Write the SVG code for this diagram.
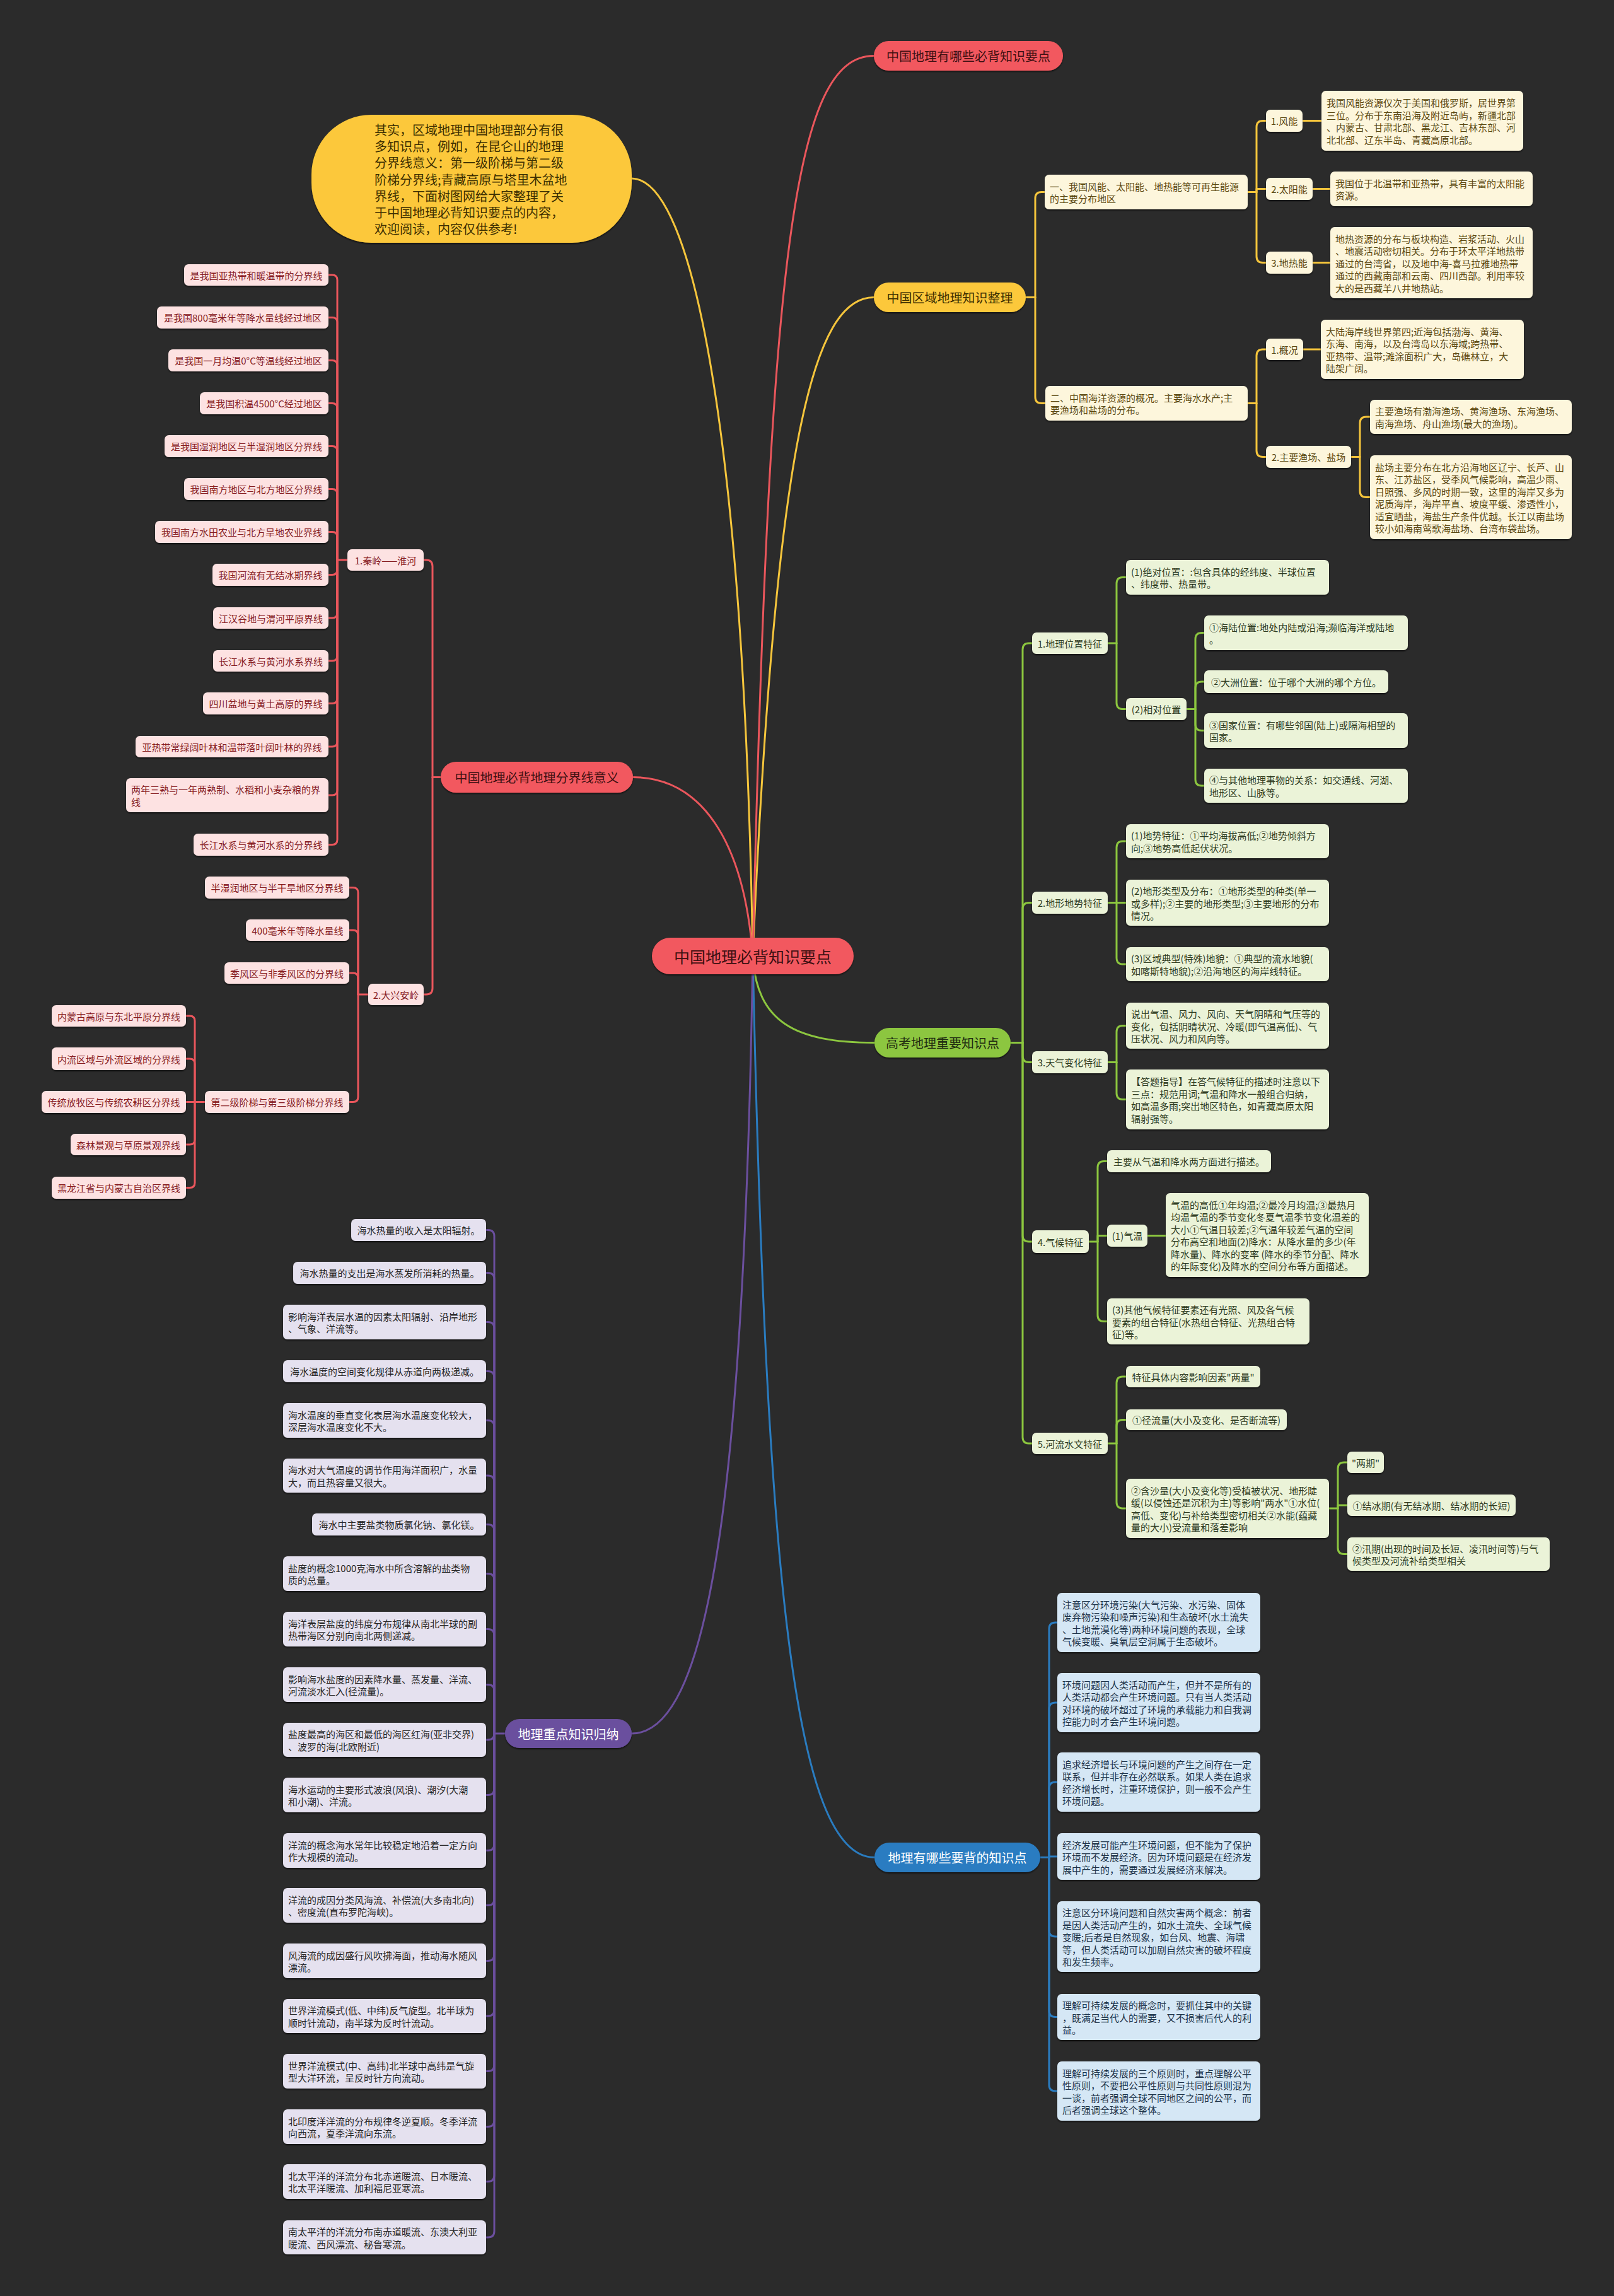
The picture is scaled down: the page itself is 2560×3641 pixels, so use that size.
<svg xmlns="http://www.w3.org/2000/svg" width="2560" height="3641" viewBox="0 0 2560 3641">
<defs>
<filter id="sh" x="-5%" y="-10%" width="110%" height="130%"><feDropShadow dx="0" dy="2" stdDeviation="1.2" flood-color="#000" flood-opacity="0.55"/></filter>
</defs>
<style>
text{font-family:"Noto Sans CJK SC","Noto Sans",sans-serif;dominant-baseline:central;font-size:15px}
.m{text-anchor:middle}
rect{filter:url(#sh)}
.br text{font-size:20px}
.red rect{fill:#f2595f}.red text{fill:#3e1012}
.yel rect{fill:#fcc83b}.yel text{fill:#3d2f00}
.grn rect{fill:#8cc63f}.grn text{fill:#1f2b10}
.blu rect{fill:#2b7cc1}.blu text{fill:#ffffff}
.pur rect{fill:#6b4f9e}.pur text{fill:#ffffff}
.lr rect{fill:#fde2e2}.lr text{fill:#861b1f}
.ly rect{fill:#fdf6dc}.ly text{fill:#5a4710}
.lg rect{fill:#ebf3d8}.lg text{fill:#2d3a1e}
.lb rect{fill:#d5e7f5}.lb text{fill:#1c3248}
.lp rect{fill:#e5e1ef}.lp text{fill:#262626}
#connectors path{fill:none;stroke-linecap:round;stroke-linejoin:round}
.cr path{stroke:#ea565c;stroke-width:3}
.cy path{stroke:#f5c53c;stroke-width:3}
.cg path{stroke:#8cc63f;stroke-width:3}
.cb path{stroke:#2a7cc0;stroke-width:3}
.cp path{stroke:#6b4f9e;stroke-width:3}
</style>
<rect x="0" y="0" width="2560" height="3641" fill="#2b2b2b" style="filter:none"/>

<g id="connectors">
<g class="cy">
<path d="M1194 1516C1180 700 1100 283 1002 283"/>
<path d="M1194 1516C1230 700 1290 471.5 1386 471.5"/>
<path d="M1627 471.5H1642"/>
<path d="M1642 471.5V314.5Q1642 304.5 1652 304.5H1657"/>
<path d="M1642 471.5V629.5Q1642 639.5 1652 639.5H1658"/>
<path d="M1979 304.5H1993"/>
<path d="M1993 304.5V201.5Q1993 191.5 2003 191.5H2008"/>
<path d="M1993 304.5V299.5H2008"/>
<path d="M1993 304.5V406.5Q1993 416.5 2003 416.5H2008"/>
<path d="M2066 191.5H2096"/>
<path d="M2082 299.5H2110"/>
<path d="M2082 416.5H2110"/>
<path d="M1979 639.5H1993"/>
<path d="M1993 639.5V564Q1993 554 2003 554H2008"/>
<path d="M1993 639.5V714.5Q1993 724.5 2003 724.5H2008"/>
<path d="M2067 554H2095"/>
<path d="M2143 724.5H2157"/>
<path d="M2157 724.5V671Q2157 661 2167 661H2173"/>
<path d="M2157 724.5V778.5Q2157 788.5 2167 788.5H2173"/>
</g>
<g class="cr">
<path d="M1194 1516C1220 400 1260 88.5 1386 88.5"/>
<path d="M1194 1516C1180 1330 1110 1232.5 1004 1232.5"/>
<path d="M699 1232.5H686"/>
<path d="M686 1232.5V898Q686 888 676 888H672"/>
<path d="M686 1232.5V1567Q686 1577 676 1577H672"/>
<path d="M551 888H535"/>
<path d="M535 888V444Q535 436 527 436H521"/>
<path d="M535 888V511.5Q535 503.5 527 503.5H521"/>
<path d="M535 888V579.5Q535 571.5 527 571.5H521"/>
<path d="M535 888V647.5Q535 639.5 527 639.5H521"/>
<path d="M535 888V715.5Q535 707.5 527 707.5H521"/>
<path d="M535 888V783.5Q535 775.5 527 775.5H521"/>
<path d="M535 888V851.5Q535 843.5 527 843.5H521"/>
<path d="M535 888V903.5Q535 911.5 527 911.5H521"/>
<path d="M535 888V972Q535 980 527 980H521"/>
<path d="M535 888V1040Q535 1048 527 1048H521"/>
<path d="M535 888V1107.5Q535 1115.5 527 1115.5H521"/>
<path d="M535 888V1176Q535 1184 527 1184H521"/>
<path d="M535 888V1253Q535 1261 527 1261H521"/>
<path d="M535 888V1331.5Q535 1339.5 527 1339.5H521"/>
<path d="M584 1577H568"/>
<path d="M568 1577V1415.5Q568 1407.5 560 1407.5H554"/>
<path d="M568 1577V1483Q568 1475 560 1475H554"/>
<path d="M568 1577V1551Q568 1543 560 1543H554"/>
<path d="M568 1577V1739.5Q568 1747.5 560 1747.5H554"/>
<path d="M325 1747.5H309"/>
<path d="M309 1747.5V1619Q309 1611 301 1611H295"/>
<path d="M309 1747.5V1687Q309 1679 301 1679H295"/>
<path d="M309 1747.5H295"/>
<path d="M309 1747.5V1807Q309 1815 301 1815H295"/>
<path d="M309 1747.5V1875.5Q309 1883.5 301 1883.5H295"/>
</g>
<g class="cg">
<path d="M1194 1516C1200 1620 1260 1653.5 1387 1653.5"/>
<path d="M1603 1653.5H1622"/>
<path d="M1622 1653.5V1030Q1622 1020 1632 1020H1637"/>
<path d="M1622 1653.5V1441.5Q1622 1431.5 1632 1431.5H1637"/>
<path d="M1622 1653.5V1674.5Q1622 1684.5 1632 1684.5H1637"/>
<path d="M1622 1653.5V1959Q1622 1969 1632 1969H1637"/>
<path d="M1622 1653.5V2279Q1622 2289 1632 2289H1637"/>
<path d="M1757 1020H1771"/>
<path d="M1771 1020V925.5Q1771 915.5 1781 915.5H1786"/>
<path d="M1771 1020V1114.5Q1771 1124.5 1781 1124.5H1786"/>
<path d="M1882 1124.5H1896"/>
<path d="M1896 1124.5V1013.5Q1896 1003.5 1906 1003.5H1910"/>
<path d="M1896 1124.5V1091Q1896 1081 1906 1081H1910"/>
<path d="M1896 1124.5V1148.5Q1896 1158.5 1906 1158.5H1910"/>
<path d="M1896 1124.5V1236Q1896 1246 1906 1246H1910"/>
<path d="M1757 1431.5H1771"/>
<path d="M1771 1431.5V1344Q1771 1334 1781 1334H1786"/>
<path d="M1771 1431.5H1786"/>
<path d="M1771 1431.5V1519Q1771 1529 1781 1529H1786"/>
<path d="M1757 1684.5H1771"/>
<path d="M1771 1684.5V1636.5Q1771 1626.5 1781 1626.5H1786"/>
<path d="M1771 1684.5V1733.5Q1771 1743.5 1781 1743.5H1786"/>
<path d="M1727 1969H1741"/>
<path d="M1741 1969V1851.5Q1741 1841.5 1751 1841.5H1756"/>
<path d="M1741 1969V1959.5H1756"/>
<path d="M1741 1969V2085.5Q1741 2095.5 1751 2095.5H1756"/>
<path d="M1820 1959.5H1849"/>
<path d="M1757 2289H1771"/>
<path d="M1771 2289V2193Q1771 2183 1781 2183H1786"/>
<path d="M1771 2289V2261.5Q1771 2251.5 1781 2251.5H1786"/>
<path d="M1771 2289V2382Q1771 2392 1781 2392H1786"/>
<path d="M2108 2392H2122"/>
<path d="M2122 2392V2329Q2122 2319 2132 2319H2137"/>
<path d="M2122 2392V2387H2137"/>
<path d="M2122 2392V2454.5Q2122 2464.5 2132 2464.5H2137"/>
</g>
<g class="cb">
<path d="M1194 1516C1215 2500 1260 2945.5 1387 2945.5"/>
<path d="M1650 2945.5H1664"/>
<path d="M1664 2945.5V2583Q1664 2573 1674 2573H1677"/>
<path d="M1664 2945.5V2710Q1664 2700 1674 2700H1677"/>
<path d="M1664 2945.5V2836Q1664 2826 1674 2826H1677"/>
<path d="M1664 2945.5V2944H1677"/>
<path d="M1664 2945.5V3061Q1664 3071 1674 3071H1677"/>
<path d="M1664 2945.5V3188.5Q1664 3198.5 1674 3198.5H1677"/>
<path d="M1664 2945.5V3306Q1664 3316 1674 3316H1677"/>
</g>
<g class="cp">
<path d="M1194 1516C1180 2400 1120 2749 1002 2749"/>
<path d="M801 2749H784"/>
<path d="M784 2749V1960.5Q784 1950.5 774 1950.5H771"/>
<path d="M784 2749V2028.5Q784 2018.5 774 2018.5H771"/>
<path d="M784 2749V2106.5Q784 2096.5 774 2096.5H771"/>
<path d="M784 2749V2184.5Q784 2174.5 774 2174.5H771"/>
<path d="M784 2749V2262.5Q784 2252.5 774 2252.5H771"/>
<path d="M784 2749V2350Q784 2340 774 2340H771"/>
<path d="M784 2749V2427.5Q784 2417.5 774 2417.5H771"/>
<path d="M784 2749V2505.5Q784 2495.5 774 2495.5H771"/>
<path d="M784 2749V2593.5Q784 2583.5 774 2583.5H771"/>
<path d="M784 2749V2681.5Q784 2671.5 774 2671.5H771"/>
<path d="M784 2749Q784 2759 774 2759H771"/>
<path d="M784 2749V2836.5Q784 2846.5 774 2846.5H771"/>
<path d="M784 2749V2924.5Q784 2934.5 774 2934.5H771"/>
<path d="M784 2749V3011.5Q784 3021.5 774 3021.5H771"/>
<path d="M784 2749V3099.5Q784 3109.5 774 3109.5H771"/>
<path d="M784 2749V3187Q784 3197 774 3197H771"/>
<path d="M784 2749V3274.5Q784 3284.5 774 3284.5H771"/>
<path d="M784 2749V3362.5Q784 3372.5 774 3372.5H771"/>
<path d="M784 2749V3449.5Q784 3459.5 774 3459.5H771"/>
<path d="M784 2749V3538Q784 3548 774 3548H771"/>
</g>
</g>

<g id="root" class="red br"><rect x="1034" y="1487" width="320" height="58" rx="29"/><text x="1194" y="1516" class="m" style="font-size:25px">中国地理必背知识要点</text></g>

<g id="intro" class="yel"><rect x="494" y="182" width="508" height="203" rx="95"/>
<text style="font-size:20px"><tspan x="594" y="204.6">其实，区域地理中国地理部分有很</tspan><tspan x="594" y="230.9">多知识点，例如，在昆仑山的地理</tspan><tspan x="594" y="257.2">分界线意义：第一级阶梯与第二级</tspan><tspan x="594" y="283.5">阶梯分界线;青藏高原与塔里木盆地</tspan><tspan x="594" y="309.8">界线，下面树图网给大家整理了关</tspan><tspan x="594" y="336.1">于中国地理必背知识要点的内容，</tspan><tspan x="594" y="362.4">欢迎阅读，内容仅供参考!</tspan></text></g>

<g id="b1" class="red br"><rect x="1386" y="65" width="300" height="47" rx="23.5"/><text x="1536" y="88.5" class="m">中国地理有哪些必背知识要点</text></g>
<g id="b2" class="yel br"><rect x="1386" y="448" width="241" height="47" rx="23.5"/><text x="1506.5" y="471.5" class="m">中国区域地理知识整理</text></g>
<g id="b3" class="grn br"><rect x="1387" y="1630" width="216" height="47" rx="23.5"/><text x="1495" y="1653.5" class="m">高考地理重要知识点</text></g>
<g id="b4" class="blu br"><rect x="1387" y="2922" width="263" height="47" rx="23.5"/><text x="1518.5" y="2945.5" class="m">地理有哪些要背的知识点</text></g>
<g id="b5" class="pur br"><rect x="801" y="2726" width="201" height="46" rx="23"/><text x="901.5" y="2749" class="m">地理重点知识归纳</text></g>
<g id="b6" class="red br"><rect x="699" y="1208" width="305" height="49" rx="24.5"/><text x="851.5" y="1232.5" class="m">中国地理必背地理分界线意义</text></g>

<!-- yellow branch -->
<g id="y1" class="ly"><rect x="1657" y="277" width="322" height="55" rx="7"/><text><tspan x="1665" y="294.75">一、我国风能、太阳能、地热能等可再生能源</tspan><tspan x="1665" y="314.25">的主要分布地区</tspan></text></g>
<g id="y1a" class="ly"><rect x="2008" y="174" width="58" height="35" rx="7"/><text x="2037" y="191.5" class="m">1.风能</text></g>
<g id="y1a1" class="ly"><rect x="2096" y="144" width="320" height="95" rx="7"/><text><tspan x="2104" y="162.25">我国风能资源仅次于美国和俄罗斯，居世界第</tspan><tspan x="2104" y="181.75">三位。分布于东南沿海及附近岛屿，新疆北部</tspan><tspan x="2104" y="201.25">、内蒙古、甘肃北部、黑龙江、吉林东部、河</tspan><tspan x="2104" y="220.75">北北部、辽东半岛、青藏高原北部。</tspan></text></g>
<g id="y1b" class="ly"><rect x="2008" y="282" width="74" height="35" rx="7"/><text x="2045" y="299.5" class="m">2.太阳能</text></g>
<g id="y1b1" class="ly"><rect x="2110" y="272" width="321" height="55" rx="7"/><text><tspan x="2118" y="289.75">我国位于北温带和亚热带，具有丰富的太阳能</tspan><tspan x="2118" y="309.25">资源。</tspan></text></g>
<g id="y1c" class="ly"><rect x="2008" y="399" width="74" height="35" rx="7"/><text x="2045" y="416.5" class="m">3.地热能</text></g>
<g id="y1c1" class="ly"><rect x="2110" y="360" width="321" height="113" rx="7"/><text><tspan x="2118" y="377.5">地热资源的分布与板块构造、岩浆活动、火山</tspan><tspan x="2118" y="397">、地震活动密切相关。分布于环太平洋地热带</tspan><tspan x="2118" y="416.5">通过的台湾省，以及地中海-喜马拉雅地热带</tspan><tspan x="2118" y="436">通过的西藏南部和云南、四川西部。利用率较</tspan><tspan x="2118" y="455.5">大的是西藏羊八井地热站。</tspan></text></g>
<g id="y2" class="ly"><rect x="1658" y="612" width="321" height="55" rx="7"/><text><tspan x="1666" y="629.75">二、中国海洋资源的概况。主要海水水产;主</tspan><tspan x="1666" y="649.25">要渔场和盐场的分布。</tspan></text></g>
<g id="y2a" class="ly"><rect x="2008" y="537" width="59" height="34" rx="7"/><text x="2037.5" y="554" class="m">1.概况</text></g>
<g id="y2a1" class="ly"><rect x="2095" y="507" width="322" height="94" rx="7"/><text><tspan x="2103" y="524.75">大陆海岸线世界第四;近海包括渤海、黄海、</tspan><tspan x="2103" y="544.25">东海、南海，以及台湾岛以东海域;跨热带、</tspan><tspan x="2103" y="563.75">亚热带、温带;滩涂面积广大，岛礁林立，大</tspan><tspan x="2103" y="583.25">陆架广阔。</tspan></text></g>
<g id="y2b" class="ly"><rect x="2008" y="707" width="135" height="35" rx="7"/><text x="2075.5" y="724.5" class="m">2.主要渔场、盐场</text></g>
<g id="y2b1" class="ly"><rect x="2173" y="634" width="320" height="54" rx="7"/><text><tspan x="2181" y="651.25">主要渔场有渤海渔场、黄海渔场、东海渔场、</tspan><tspan x="2181" y="670.75">南海渔场、舟山渔场(最大的渔场)。</tspan></text></g>
<g id="y2b2" class="ly"><rect x="2173" y="722" width="320" height="133" rx="7"/><text><tspan x="2181" y="739.75">盐场主要分布在北方沿海地区辽宁、长芦、山</tspan><tspan x="2181" y="759.25">东、江苏盐区，受季风气候影响，高温少雨、</tspan><tspan x="2181" y="778.75">日照强、多风的时期一致，这里的海岸又多为</tspan><tspan x="2181" y="798.25">泥质海岸，海岸平直、坡度平缓、渗透性小，</tspan><tspan x="2181" y="817.75">适宜晒盐，海盐生产条件优越。长江以南盐场</tspan><tspan x="2181" y="837.25">较小如海南莺歌海盐场、台湾布袋盐场。</tspan></text></g>

<!-- red branch -->
<g id="r1" class="lr"><rect x="292" y="419" width="229" height="34" rx="7"/><text x="406.5" y="436" class="m">是我国亚热带和暖温带的分界线</text></g>
<g id="r2" class="lr"><rect x="249" y="486" width="272" height="35" rx="7"/><text x="385" y="503.5" class="m">是我国800毫米年等降水量线经过地区</text></g>
<g id="r3" class="lr"><rect x="267" y="554" width="254" height="35" rx="7"/><text x="394" y="571.5" class="m">是我国一月均温0°C等温线经过地区</text></g>
<g id="r4" class="lr"><rect x="317" y="622" width="204" height="35" rx="7"/><text x="419" y="639.5" class="m">是我国积温4500°C经过地区</text></g>
<g id="r5" class="lr"><rect x="261" y="690" width="260" height="35" rx="7"/><text x="391" y="707.5" class="m">是我国湿润地区与半湿润地区分界线</text></g>
<g id="r6" class="lr"><rect x="292" y="758" width="229" height="35" rx="7"/><text x="406.5" y="775.5" class="m">我国南方地区与北方地区分界线</text></g>
<g id="r7" class="lr"><rect x="246" y="826" width="275" height="35" rx="7"/><text x="383.5" y="843.5" class="m">我国南方水田农业与北方旱地农业界线</text></g>
<g id="r8" class="lr"><rect x="337" y="894" width="184" height="35" rx="7"/><text x="429" y="911.5" class="m">我国河流有无结冰期界线</text></g>
<g id="r9" class="lr"><rect x="338" y="963" width="183" height="34" rx="7"/><text x="429.5" y="980" class="m">江汉谷地与渭河平原界线</text></g>
<g id="r10" class="lr"><rect x="338" y="1031" width="183" height="34" rx="7"/><text x="429.5" y="1048" class="m">长江水系与黄河水系界线</text></g>
<g id="r11" class="lr"><rect x="322" y="1098" width="199" height="35" rx="7"/><text x="421.5" y="1115.5" class="m">四川盆地与黄土高原的界线</text></g>
<g id="r12" class="lr"><rect x="215" y="1167" width="306" height="34" rx="7"/><text x="368" y="1184" class="m">亚热带常绿阔叶林和温带落叶阔叶林的界线</text></g>
<g id="r13" class="lr"><rect x="200" y="1234" width="321" height="54" rx="7"/><text><tspan x="208" y="1251.25">两年三熟与一年两熟制、水稻和小麦杂粮的界</tspan><tspan x="208" y="1270.75">线</tspan></text></g>
<g id="r14" class="lr"><rect x="307" y="1322" width="214" height="35" rx="7"/><text x="414" y="1339.5" class="m">长江水系与黄河水系的分界线</text></g>
<g id="rA" class="lr"><rect x="551" y="871" width="121" height="34" rx="7"/><text x="611.5" y="888" class="m">1.秦岭——淮河</text></g>
<g id="rB" class="lr"><rect x="584" y="1560" width="88" height="34" rx="7"/><text x="628" y="1577" class="m">2.大兴安岭</text></g>
<g id="s1" class="lr"><rect x="325" y="1390" width="229" height="35" rx="7"/><text x="439.5" y="1407.5" class="m">半湿润地区与半干旱地区分界线</text></g>
<g id="s2" class="lr"><rect x="390" y="1458" width="164" height="34" rx="7"/><text x="472" y="1475" class="m">400毫米年等降水量线</text></g>
<g id="s3" class="lr"><rect x="356" y="1526" width="198" height="34" rx="7"/><text x="455" y="1543" class="m">季风区与非季风区的分界线</text></g>
<g id="s4" class="lr"><rect x="325" y="1730" width="229" height="35" rx="7"/><text x="439.5" y="1747.5" class="m">第二级阶梯与第三级阶梯分界线</text></g>
<g id="t1" class="lr"><rect x="82" y="1594" width="213" height="34" rx="7"/><text x="188.5" y="1611" class="m">内蒙古高原与东北平原分界线</text></g>
<g id="t2" class="lr"><rect x="82" y="1661" width="213" height="36" rx="7"/><text x="188.5" y="1679" class="m">内流区域与外流区域的分界线</text></g>
<g id="t3" class="lr"><rect x="66" y="1730" width="229" height="35" rx="7"/><text x="180.5" y="1747.5" class="m">传统放牧区与传统农耕区分界线</text></g>
<g id="t4" class="lr"><rect x="112" y="1798" width="183" height="34" rx="7"/><text x="203.5" y="1815" class="m">森林景观与草原景观界线</text></g>
<g id="t5" class="lr"><rect x="82" y="1866" width="213" height="35" rx="7"/><text x="188.5" y="1883.5" class="m">黑龙江省与内蒙古自治区界线</text></g>

<!-- green branch -->
<g id="g1" class="lg"><rect x="1637" y="1003" width="120" height="34" rx="7"/><text x="1697" y="1020" class="m">1.地理位置特征</text></g>
<g id="g1a" class="lg"><rect x="1786" y="888" width="322" height="55" rx="7"/><text><tspan x="1794" y="905.75">(1)绝对位置：:包含具体的经纬度、半球位置</tspan><tspan x="1794" y="925.25">、纬度带、热量带。</tspan></text></g>
<g id="g1b" class="lg"><rect x="1786" y="1107" width="96" height="35" rx="7"/><text x="1834" y="1124.5" class="m">(2)相对位置</text></g>
<g id="g1b1" class="lg"><rect x="1910" y="976" width="323" height="55" rx="7"/><text><tspan x="1918" y="993.75">①海陆位置:地处内陆或沿海;濒临海洋或陆地</tspan><tspan x="1918" y="1013.25">。</tspan></text></g>
<g id="g1b2" class="lg"><rect x="1910" y="1063" width="292" height="36" rx="7"/><text x="2056" y="1081" class="m">②大洲位置：位于哪个大洲的哪个方位。</text></g>
<g id="g1b3" class="lg"><rect x="1910" y="1131" width="323" height="55" rx="7"/><text><tspan x="1918" y="1148.75">③国家位置：有哪些邻国(陆上)或隔海相望的</tspan><tspan x="1918" y="1168.25">国家。</tspan></text></g>
<g id="g1b4" class="lg"><rect x="1910" y="1219" width="323" height="54" rx="7"/><text><tspan x="1918" y="1236.25">④与其他地理事物的关系：如交通线、河湖、</tspan><tspan x="1918" y="1255.75">地形区、山脉等。</tspan></text></g>
<g id="g2" class="lg"><rect x="1637" y="1414" width="120" height="35" rx="7"/><text x="1697" y="1431.5" class="m">2.地形地势特征</text></g>
<g id="g2a" class="lg"><rect x="1786" y="1307" width="322" height="54" rx="7"/><text><tspan x="1794" y="1324.25">(1)地势特征：①平均海拔高低;②地势倾斜方</tspan><tspan x="1794" y="1343.75">向;③地势高低起伏状况。</tspan></text></g>
<g id="g2b" class="lg"><rect x="1786" y="1395" width="322" height="73" rx="7"/><text><tspan x="1794" y="1412">(2)地形类型及分布：①地形类型的种类(单一</tspan><tspan x="1794" y="1431.5">或多样);②主要的地形类型;③主要地形的分布</tspan><tspan x="1794" y="1451">情况。</tspan></text></g>
<g id="g2c" class="lg"><rect x="1786" y="1502" width="322" height="54" rx="7"/><text><tspan x="1794" y="1519.25">(3)区域典型(特殊)地貌：①典型的流水地貌(</tspan><tspan x="1794" y="1538.75">如喀斯特地貌);②沿海地区的海岸线特征。</tspan></text></g>
<g id="g3" class="lg"><rect x="1637" y="1667" width="120" height="35" rx="7"/><text x="1697" y="1684.5" class="m">3.天气变化特征</text></g>
<g id="g3a" class="lg"><rect x="1786" y="1590" width="322" height="73" rx="7"/><text><tspan x="1794" y="1607">说出气温、风力、风向、天气阴晴和气压等的</tspan><tspan x="1794" y="1626.5">变化，包括阴晴状况、冷暖(即气温高低)、气</tspan><tspan x="1794" y="1646">压状况、风力和风向等。</tspan></text></g>
<g id="g3b" class="lg"><rect x="1786" y="1696" width="322" height="95" rx="7"/><text><tspan x="1794" y="1714.25">【答题指导】在答气候特征的描述时注意以下</tspan><tspan x="1794" y="1733.75">三点：规范用词;气温和降水一般组合归纳，</tspan><tspan x="1794" y="1753.25">如高温多雨;突出地区特色，如青藏高原太阳</tspan><tspan x="1794" y="1772.75">辐射强等。</tspan></text></g>
<g id="g4" class="lg"><rect x="1637" y="1951" width="90" height="36" rx="7"/><text x="1682" y="1969" class="m">4.气候特征</text></g>
<g id="g4a" class="lg"><rect x="1756" y="1824" width="260" height="35" rx="7"/><text x="1886" y="1841.5" class="m">主要从气温和降水两方面进行描述。</text></g>
<g id="g4b" class="lg"><rect x="1756" y="1942" width="64" height="35" rx="7"/><text x="1788" y="1959.5" class="m">(1)气温</text></g>
<g id="g4b1" class="lg"><rect x="1849" y="1892" width="322" height="133" rx="7"/><text><tspan x="1857" y="1909.75">气温的高低①年均温;②最冷月均温;③最热月</tspan><tspan x="1857" y="1929.25">均温气温的季节变化冬夏气温季节变化温差的</tspan><tspan x="1857" y="1948.75">大小①气温日较差;②气温年较差气温的空间</tspan><tspan x="1857" y="1968.25">分布高空和地面(2)降水：从降水量的多少(年</tspan><tspan x="1857" y="1987.75">降水量)、降水的变率 (降水的季节分配、降水</tspan><tspan x="1857" y="2007.25">的年际变化)及降水的空间分布等方面描述。</tspan></text></g>
<g id="g4c" class="lg"><rect x="1756" y="2059" width="321" height="73" rx="7"/><text><tspan x="1764" y="2076">(3)其他气候特征要素还有光照、风及各气候</tspan><tspan x="1764" y="2095.5">要素的组合特征(水热组合特征、光热组合特</tspan><tspan x="1764" y="2115">征)等。</tspan></text></g>
<g id="g5" class="lg"><rect x="1637" y="2272" width="120" height="34" rx="7"/><text x="1697" y="2289" class="m">5.河流水文特征</text></g>
<g id="g5a" class="lg"><rect x="1786" y="2166" width="213" height="34" rx="7"/><text x="1892.5" y="2183" class="m">特征具体内容影响因素"两量"</text></g>
<g id="g5b" class="lg"><rect x="1786" y="2235" width="255" height="33" rx="7"/><text x="1913.5" y="2251.5" class="m">①径流量(大小及变化、是否断流等)</text></g>
<g id="g5c" class="lg"><rect x="1786" y="2345" width="322" height="94" rx="7"/><text><tspan x="1794" y="2362.75">②含沙量(大小及变化等)受植被状况、地形陡</tspan><tspan x="1794" y="2382.25">缓(以侵蚀还是沉积为主)等影响"两水"①水位(</tspan><tspan x="1794" y="2401.75">高低、变化)与补给类型密切相关②水能(蕴藏</tspan><tspan x="1794" y="2421.25">量的大小)受流量和落差影响</tspan></text></g>
<g id="g5c1" class="lg"><rect x="2137" y="2302" width="58" height="34" rx="7"/><text x="2166" y="2319" class="m">"两期"</text></g>
<g id="g5c2" class="lg"><rect x="2137" y="2370" width="267" height="34" rx="7"/><text x="2270.5" y="2387" class="m">①结冰期(有无结冰期、结冰期的长短)</text></g>
<g id="g5c3" class="lg"><rect x="2137" y="2438" width="321" height="53" rx="7"/><text><tspan x="2145" y="2454.75">②汛期(出现的时间及长短、凌汛时间等)与气</tspan><tspan x="2145" y="2474.25">候类型及河流补给类型相关</tspan></text></g>

<!-- blue branch -->
<g id="bl1" class="lb"><rect x="1677" y="2526" width="322" height="94" rx="7"/><text><tspan x="1685" y="2543.75">注意区分环境污染(大气污染、水污染、固体</tspan><tspan x="1685" y="2563.25">废弃物污染和噪声污染)和生态破坏(水土流失</tspan><tspan x="1685" y="2582.75">、土地荒漠化等)两种环境问题的表现，全球</tspan><tspan x="1685" y="2602.25">气候变暖、臭氧层空洞属于生态破坏。</tspan></text></g>
<g id="bl2" class="lb"><rect x="1677" y="2653" width="322" height="94" rx="7"/><text><tspan x="1685" y="2670.75">环境问题因人类活动而产生，但并不是所有的</tspan><tspan x="1685" y="2690.25">人类活动都会产生环境问题。只有当人类活动</tspan><tspan x="1685" y="2709.75">对环境的破坏超过了环境的承载能力和自我调</tspan><tspan x="1685" y="2729.25">控能力时才会产生环境问题。</tspan></text></g>
<g id="bl3" class="lb"><rect x="1677" y="2779" width="322" height="94" rx="7"/><text><tspan x="1685" y="2796.75">追求经济增长与环境问题的产生之间存在一定</tspan><tspan x="1685" y="2816.25">联系，但并非存在必然联系。如果人类在追求</tspan><tspan x="1685" y="2835.75">经济增长时，注重环境保护，则一般不会产生</tspan><tspan x="1685" y="2855.25">环境问题。</tspan></text></g>
<g id="bl4" class="lb"><rect x="1677" y="2907" width="322" height="74" rx="7"/><text><tspan x="1685" y="2924.5">经济发展可能产生环境问题，但不能为了保护</tspan><tspan x="1685" y="2944">环境而不发展经济。因为环境问题是在经济发</tspan><tspan x="1685" y="2963.5">展中产生的，需要通过发展经济来解决。</tspan></text></g>
<g id="bl5" class="lb"><rect x="1677" y="3015" width="322" height="112" rx="7"/><text><tspan x="1685" y="3032">注意区分环境问题和自然灾害两个概念：前者</tspan><tspan x="1685" y="3051.5">是因人类活动产生的，如水土流失、全球气候</tspan><tspan x="1685" y="3071">变暖;后者是自然现象，如台风、地震、海啸</tspan><tspan x="1685" y="3090.5">等，但人类活动可以加剧自然灾害的破坏程度</tspan><tspan x="1685" y="3110">和发生频率。</tspan></text></g>
<g id="bl6" class="lb"><rect x="1677" y="3162" width="322" height="73" rx="7"/><text><tspan x="1685" y="3179">理解可持续发展的概念时，要抓住其中的关键</tspan><tspan x="1685" y="3198.5">，既满足当代人的需要，又不损害后代人的利</tspan><tspan x="1685" y="3218">益。</tspan></text></g>
<g id="bl7" class="lb"><rect x="1677" y="3269" width="322" height="94" rx="7"/><text><tspan x="1685" y="3286.75">理解可持续发展的三个原则时，重点理解公平</tspan><tspan x="1685" y="3306.25">性原则，不要把公平性原则与共同性原则混为</tspan><tspan x="1685" y="3325.75">一谈，前者强调全球不同地区之间的公平，而</tspan><tspan x="1685" y="3345.25">后者强调全球这个整体。</tspan></text></g>

<!-- purple branch -->
<g id="p1" class="lp"><rect x="557" y="1933" width="214" height="35" rx="7"/><text x="664" y="1950.5" class="m">海水热量的收入是太阳辐射。</text></g>
<g id="p2" class="lp"><rect x="465" y="2001" width="306" height="35" rx="7"/><text x="618" y="2018.5" class="m">海水热量的支出是海水蒸发所消耗的热量。</text></g>
<g id="p3" class="lp"><rect x="449" y="2069" width="322" height="55" rx="7"/><text><tspan x="457" y="2086.75">影响海洋表层水温的因素太阳辐射、沿岸地形</tspan><tspan x="457" y="2106.25">、气象、洋流等。</tspan></text></g>
<g id="p4" class="lp"><rect x="449" y="2157" width="322" height="35" rx="7"/><text x="610" y="2174.5" class="m">海水温度的空间变化规律从赤道向两极递减。</text></g>
<g id="p5" class="lp"><rect x="449" y="2225" width="322" height="55" rx="7"/><text><tspan x="457" y="2242.75">海水温度的垂直变化表层海水温度变化较大，</tspan><tspan x="457" y="2262.25">深层海水温度变化不大。</tspan></text></g>
<g id="p6" class="lp"><rect x="449" y="2313" width="322" height="54" rx="7"/><text><tspan x="457" y="2330.25">海水对大气温度的调节作用海洋面积广，水量</tspan><tspan x="457" y="2349.75">大，而且热容量又很大。</tspan></text></g>
<g id="p7" class="lp"><rect x="495" y="2400" width="276" height="35" rx="7"/><text x="633" y="2417.5" class="m">海水中主要盐类物质氯化钠、氯化镁。</text></g>
<g id="p8" class="lp"><rect x="449" y="2468" width="322" height="55" rx="7"/><text><tspan x="457" y="2485.75">盐度的概念1000克海水中所含溶解的盐类物</tspan><tspan x="457" y="2505.25">质的总量。</tspan></text></g>
<g id="p9" class="lp"><rect x="449" y="2556" width="322" height="55" rx="7"/><text><tspan x="457" y="2573.75">海洋表层盐度的纬度分布规律从南北半球的副</tspan><tspan x="457" y="2593.25">热带海区分别向南北两侧递减。</tspan></text></g>
<g id="p10" class="lp"><rect x="449" y="2644" width="322" height="55" rx="7"/><text><tspan x="457" y="2661.75">影响海水盐度的因素降水量、蒸发量、洋流、</tspan><tspan x="457" y="2681.25">河流淡水汇入(径流量)。</tspan></text></g>
<g id="p11" class="lp"><rect x="449" y="2732" width="322" height="54" rx="7"/><text><tspan x="457" y="2749.25">盐度最高的海区和最低的海区红海(亚非交界)</tspan><tspan x="457" y="2768.75">、波罗的海(北欧附近)</tspan></text></g>
<g id="p12" class="lp"><rect x="449" y="2819" width="322" height="55" rx="7"/><text><tspan x="457" y="2836.75">海水运动的主要形式波浪(风浪)、潮汐(大潮</tspan><tspan x="457" y="2856.25">和小潮)、洋流。</tspan></text></g>
<g id="p13" class="lp"><rect x="449" y="2907" width="322" height="55" rx="7"/><text><tspan x="457" y="2924.75">洋流的概念海水常年比较稳定地沿着一定方向</tspan><tspan x="457" y="2944.25">作大规模的流动。</tspan></text></g>
<g id="p14" class="lp"><rect x="449" y="2994" width="322" height="55" rx="7"/><text><tspan x="457" y="3011.75">洋流的成因分类风海流、补偿流(大多南北向)</tspan><tspan x="457" y="3031.25">、密度流(直布罗陀海峡)。</tspan></text></g>
<g id="p15" class="lp"><rect x="449" y="3082" width="322" height="55" rx="7"/><text><tspan x="457" y="3099.75">风海流的成因盛行风吹拂海面，推动海水随风</tspan><tspan x="457" y="3119.25">漂流。</tspan></text></g>
<g id="p16" class="lp"><rect x="449" y="3170" width="322" height="54" rx="7"/><text><tspan x="457" y="3187.25">世界洋流模式(低、中纬)反气旋型。北半球为</tspan><tspan x="457" y="3206.75">顺时针流动，南半球为反时针流动。</tspan></text></g>
<g id="p17" class="lp"><rect x="449" y="3257" width="322" height="55" rx="7"/><text><tspan x="457" y="3274.75">世界洋流模式(中、高纬)北半球中高纬是气旋</tspan><tspan x="457" y="3294.25">型大洋环流，呈反时针方向流动。</tspan></text></g>
<g id="p18" class="lp"><rect x="449" y="3345" width="322" height="55" rx="7"/><text><tspan x="457" y="3362.75">北印度洋洋流的分布规律冬逆夏顺。冬季洋流</tspan><tspan x="457" y="3382.25">向西流，夏季洋流向东流。</tspan></text></g>
<g id="p19" class="lp"><rect x="449" y="3432" width="322" height="55" rx="7"/><text><tspan x="457" y="3449.75">北太平洋的洋流分布北赤道暖流、日本暖流、</tspan><tspan x="457" y="3469.25">北太平洋暖流、加利福尼亚寒流。</tspan></text></g>
<g id="p20" class="lp"><rect x="449" y="3521" width="322" height="54" rx="7"/><text><tspan x="457" y="3538.25">南太平洋的洋流分布南赤道暖流、东澳大利亚</tspan><tspan x="457" y="3557.75">暖流、西风漂流、秘鲁寒流。</tspan></text></g>
</svg>
